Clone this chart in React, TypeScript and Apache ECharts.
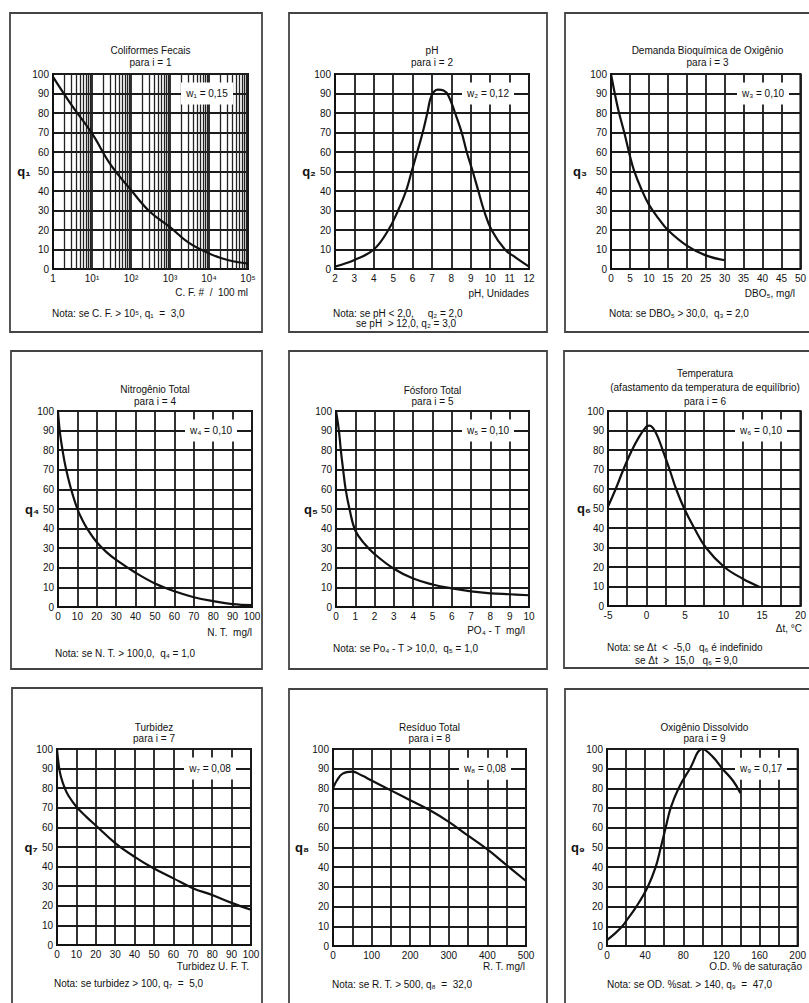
import React, { useEffect, useRef } from "react";
import * as echarts from "echarts";

// ---------- DATA ----------
// 1 – Coliformes Fecais (log x)
const cfX = [1, 3, 10, 30, 100, 300, 1000, 3000, 10000, 30000, 100000];
const cfQ = [98.5, 84, 69.5, 53.5, 40.5, 29.5, 21.5, 13.5, 8, 4.6, 2.8];
// 2 – pH
const phX = [2, 3, 4, 4.75, 5.25, 5.66, 5.95, 6.24, 6.52, 6.76, 6.98, 7.3, 7.6, 7.84, 8.19, 8.53, 8.79, 9.1, 9.39, 9.68, 10.07, 10.76, 11.3, 12];
const phQ = [1.2, 4.6, 10, 20, 30, 40, 50, 60, 70, 80, 89, 92, 91.5, 89, 80, 70, 60, 50, 40, 30, 20, 10, 6, 1.2];
// 3 – DBO
const dboX = [0, 1, 2, 3.5, 5, 6, 8, 10, 12.5, 15, 20, 25, 30];
const dboQ = [100, 90, 81, 70, 58, 51, 41, 33, 26, 20, 12, 7, 4.5];
// 4 – Nitrogênio Total
const ntX = [0, 1, 2.5, 4, 6.5, 10, 12.5, 15, 20, 25, 30, 40, 50, 60, 70, 80, 90, 100];
const ntQ = [100, 89, 79, 71, 61, 50, 44.5, 40, 33, 28, 24, 17.5, 12, 8, 5, 3, 1.5, 1];
// 5 – Fósforo Total
const poX = [0, 0.15, 0.25, 0.37, 0.5, 0.7, 1, 1.5, 2, 3, 4, 5, 6, 7, 8, 9, 10];
const poQ = [100, 90, 80, 70, 60, 50, 39, 32, 27, 19.5, 14.5, 11.5, 9.5, 8, 7, 6.5, 6];
// 6 – Temperatura
const tX = [-5, -4, -3, -2, -1, 0, 0.4, 1.2, 2.1, 3, 3.85, 4.9, 6.2, 7.7, 10.1, 12.5, 14.7];
const tQ = [51, 60, 70, 79, 86.5, 92, 92.5, 89, 80, 70, 60, 50, 40, 30, 20, 14, 9.8];
// 7 – Turbidez
const tuX = [0, 1, 2, 4, 6, 10, 15, 20, 30, 40, 50, 60, 70, 80, 90, 100];
const tuQ = [100, 91, 86, 80, 76, 70.5, 65.5, 61, 52, 45, 39, 34, 29, 25.5, 21.5, 18];
// 8 – Resíduo Total
const rtX = [0, 10, 25, 50, 75, 100, 150, 200, 250, 300, 350, 400, 450, 500];
const rtQ = [80, 84, 87.5, 88.5, 86.5, 84, 79, 74, 69, 63, 56, 49, 41, 33];
// 9 – Oxigênio Dissolvido
const odX = [0, 8.5, 16, 20.5, 30.8, 42.7, 51, 56.4, 61.5, 66.7, 75, 87, 100, 111, 121, 132, 140];
const odQ = [3, 6.4, 10, 13, 20, 30, 40, 50, 60, 70, 80, 90, 100, 96, 90, 84, 77.6];

const seriesX = [cfX, phX, dboX, ntX, poX, tX, tuX, rtX, odX];
const seriesQ = [cfQ, phQ, dboQ, ntQ, poQ, tQ, tuQ, rtQ, odQ];

// ---------- TEXTS ----------
const titles = [
  ["Coliformes Fecais", "para i = 1"],
  ["pH", "para i = 2"],
  ["Demanda Bioquímica de Oxigênio", "para i = 3"],
  ["Nitrogênio Total", "para i = 4"],
  ["Fósforo Total", "para i = 5"],
  ["Temperatura", "(afastamento da temperatura de equilíbrio)", "para i = 6"],
  ["Turbidez", "para i = 7"],
  ["Resíduo Total", "para i = 8"],
  ["Oxigênio Dissolvido", "para i = 9"],
];
const weights = ["w₁ = 0,15", "w₂ = 0,12", "w₃ = 0,10", "w₄ = 0,10", "w₅ = 0,10", "w₆ = 0,10", "w₇ = 0,08", "w₈ = 0,08", "w₉ = 0,17"];
const qNames = ["q₁", "q₂", "q₃", "q₄", "q₅", "q₆", "q₇", "q₈", "q₉"];
const xNames = [
  "C. F. #  /  100 ml",
  "pH, Unidades",
  "DBO₅, mg/l",
  "N. T.  mg/l",
  "PO₄ - T  mg/l",
  "Δt, °C",
  "Turbidez U. F. T.",
  "R. T. mg/l",
  "O.D. % de saturação",
];
const notes = [
  ["Nota: se C. F. > 10⁵, q₁  =  3,0"],
  ["Nota: se pH < 2,0,     q₂ = 2,0", "se pH  > 12,0, q₂ = 3,0"],
  ["Nota: se DBO₅ > 30,0,  q₃ = 2,0"],
  ["Nota: se N. T. > 100,0,  q₄ = 1,0"],
  ["Nota: se Po₄ - T > 10,0,  q₅ = 1,0"],
  ["Nota: se Δt  <  -5,0   q₆ é indefinido", "se Δt  >  15,0   q₆ = 9,0"],
  ["Nota: se turbidez > 100, q₇  =  5,0"],
  ["Nota: se R. T. > 500, q₈  =  32,0"],
  ["Nota: se OD. %sat. > 140, q₉  =  47,0"],
];

// ---------- AXES ----------
const xAxisSpecs: any[] = [
  { type: "log", min: 1, max: 100000 },
  { min: 2, max: 12, interval: 1 },
  { min: 0, max: 50, interval: 5 },
  { min: 0, max: 100, interval: 10 },
  { min: 0, max: 10, interval: 1 },
  { min: -5, max: 20, interval: 2.5, labelStep: 5 },
  { min: 0, max: 100, interval: 10 },
  { min: 0, max: 500, interval: 50, labelStep: 100 },
  { min: 0, max: 200, interval: 20, labelStep: 40 },
];
const yMin = 0;
const yMax = 100;
const yInterval = 10;

// ---------- LAYOUT ----------
const layout = [
  { grid: [53, 74, 195, 195], frame: [10, 13, 252, 319], titleY: [50, 62], noteX: [52], noteY: [313], xNameY: 292, xNameDx: 0, qDx: -29 },
  { grid: [335, 74, 194, 195], frame: [289, 13, 258, 319], titleY: [50, 62], noteX: [333, 356], noteY: [313, 323], xNameY: 293, xNameDx: 0, qDx: -26 },
  { grid: [611, 74, 193, 195], frame: [565, 13, 260, 319], titleY: [50, 62], noteX: [609], noteY: [313], xNameY: 293, xNameDx: -9, qDx: -31 },
  { grid: [58, 411, 194, 196], frame: [11, 351, 251, 318], titleY: [389, 401], noteX: [55], noteY: [653], xNameY: 632, xNameDx: 0, qDx: -26 },
  { grid: [336, 411, 193, 196], frame: [289, 351, 258, 318], titleY: [390, 401], noteX: [333], noteY: [648], xNameY: 630, xNameDx: -4, qDx: -25 },
  { grid: [608, 411, 194, 195], frame: [564, 351, 260, 317], titleY: [373, 387, 401], noteX: [607, 635], noteY: [647, 660], xNameY: 628, xNameDx: 0, qDx: -24 },
  { grid: [57, 749, 194, 196], frame: [12, 688, 250, 330], titleY: [727, 738], noteX: [54], noteY: [983], xNameY: 966, xNameDx: -2, qDx: -26 },
  { grid: [333, 749, 193, 197], frame: [289, 689, 258, 330], titleY: [727, 738], noteX: [332], noteY: [984], xNameY: 966, xNameDx: -1, qDx: -31 },
  { grid: [607, 749, 195, 197], frame: [565, 689, 260, 330], titleY: [727, 738], noteX: [607], noteY: [984], xNameY: 966, xNameDx: 0, qDx: -29 },
];

const FONT = "'Liberation Sans', Arial, Helvetica, sans-serif";
const INK = "#111";
const GRIDC = "#1c1c1c";
const TXT = 10;
const SUP = ["⁰", "¹", "²", "³", "⁴", "⁵", "⁶"];

const nb = (s: string) => s.replace(/ {2,}/g, (m) => "\u00A0".repeat(m.length));

function textEl(text: string, x: number, y: number, align: string, size: number, weight = "normal") {
  return {
    type: "text",
    x,
    y,
    z: 100,
    silent: true,
    style: {
      text: nb(text),
      font: `${weight} ${size}px ${FONT}`,
      fill: INK,
      align,
      textAlign: align,
      verticalAlign: "middle",
      textVerticalAlign: "middle",
    },
  };
}

function buildOption() {
  const grids: any[] = [];
  const xAxes: any[] = [];
  const yAxes: any[] = [];
  const series: any[] = [];
  const elements: any[] = [];

  layout.forEach((l, i) => {
    const [gl, gt, gw, gh] = l.grid;
    grids.push({ left: gl, top: gt, width: gw, height: gh, show: true, borderColor: INK, borderWidth: 2, backgroundColor: "transparent" });

    const spec = xAxisSpecs[i];
    const isLog = spec.type === "log";
    const x: any = {
      gridIndex: i,
      type: isLog ? "log" : "value",
      min: spec.min,
      max: spec.max,
      axisLine: { show: true, onZero: false, lineStyle: { color: INK, width: 2 } },
      axisTick: { show: false },
      splitLine: { show: true, lineStyle: { color: GRIDC, width: 1.8 } },
      axisLabel: {
        color: INK,
        fontSize: TXT,
        fontFamily: FONT,
        margin: 4,
        showMinLabel: true,
        showMaxLabel: true,
        hideOverlap: false,
        formatter: (v: number) => {
          if (isLog) {
            const p = Math.round(Math.log10(v));
            return p === 0 ? "1" : "10" + SUP[p];
          }
          if (spec.labelStep) {
            const r = v / spec.labelStep;
            return Math.abs(r - Math.round(r)) < 1e-6 ? String(v) : "";
          }
          return String(v);
        },
      },
    };
    if (isLog) {
      x.logBase = 10;
      x.splitNumber = 5;
    } else {
      x.interval = spec.interval;
    }
    xAxes.push(x);

    yAxes.push({
      gridIndex: i,
      type: "value",
      min: yMin,
      max: yMax,
      interval: yInterval,
      axisLine: { show: true, onZero: false, lineStyle: { color: INK, width: 2 } },
      axisTick: { show: false },
      splitLine: { show: true, lineStyle: { color: GRIDC, width: 1.8 } },
      axisLabel: { color: INK, fontSize: TXT, fontFamily: FONT, margin: 4 },
    });

    const s: any = {
      type: "line",
      xAxisIndex: i,
      yAxisIndex: i,
      data: seriesX[i].map((xv, k) => [xv, seriesQ[i][k]]),
      showSymbol: false,
      symbol: "none",
      smooth: 0.4,
      lineStyle: { color: "#111", width: 2.2 },
      z: 5,
      silent: true,
    };
    if (isLog) {
      const minors: number[] = [];
      for (let p = 0; p < 5; p++) {
        for (let m = 2; m <= 9; m++) minors.push(m * Math.pow(10, p));
      }
      s.markLine = {
        silent: true,
        symbol: ["none", "none"],
        animation: false,
        label: { show: false },
        lineStyle: { color: "#222", width: 1.3, type: "solid" },
        data: minors.map((v) => ({ xAxis: v })),
        z: 2,
      };
    }
    series.push(s);

    // frame
    const [fx, fy, fw, fh] = l.frame;
    elements.push({
      type: "rect",
      z: 1,
      silent: true,
      shape: { x: fx, y: fy, width: fw, height: fh },
      style: { fill: "none", stroke: "#444", lineWidth: 1.8 },
    });

    // titles
    const cx = gl + gw / 2;
    titles[i].forEach((t, k) => elements.push(textEl(t, cx, l.titleY[k], "center", TXT)));

    // weight box at the 90 line
    const y90 = gt + gh * (1 - (90 - yMin) / (yMax - yMin));
    const bw = 52;
    const bh = 22;
    const bx = gl + gw - 15 - bw;
    elements.push({
      type: "rect",
      z: 99,
      silent: true,
      shape: { x: bx, y: y90 - bh / 2, width: bw, height: bh },
      style: { fill: "#fff", stroke: "none" },
    });
    elements.push(textEl(weights[i], bx + bw / 2, y90, "center", TXT));

    // q label
    elements.push(textEl(qNames[i], gl + l.qDx, gt + gh / 2, "center", 13, "bold"));

    // x name
    elements.push(textEl(xNames[i], gl + gw + l.xNameDx, l.xNameY, "right", TXT));

    // notes
    notes[i].forEach((t, k) => elements.push(textEl(t, l.noteX[k], l.noteY[k], "left", TXT)));
  });

  return {
    animation: false,
    backgroundColor: "#fff",
    grid: grids,
    xAxis: xAxes,
    yAxis: yAxes,
    series,
    graphic: { elements },
  };
}

export default function App() {
  const ref = useRef<HTMLDivElement>(null);
  useEffect(() => {
    if (!ref.current) return;
    const chart = echarts.init(ref.current, undefined, { renderer: "svg" });
    chart.setOption(buildOption());
    return () => chart.dispose();
  }, []);
  return (
    <div
      ref={ref}
      style={{ position: "fixed", left: 0, top: 0, width: 809, height: 1003, background: "#fff" }}
    />
  );
}
